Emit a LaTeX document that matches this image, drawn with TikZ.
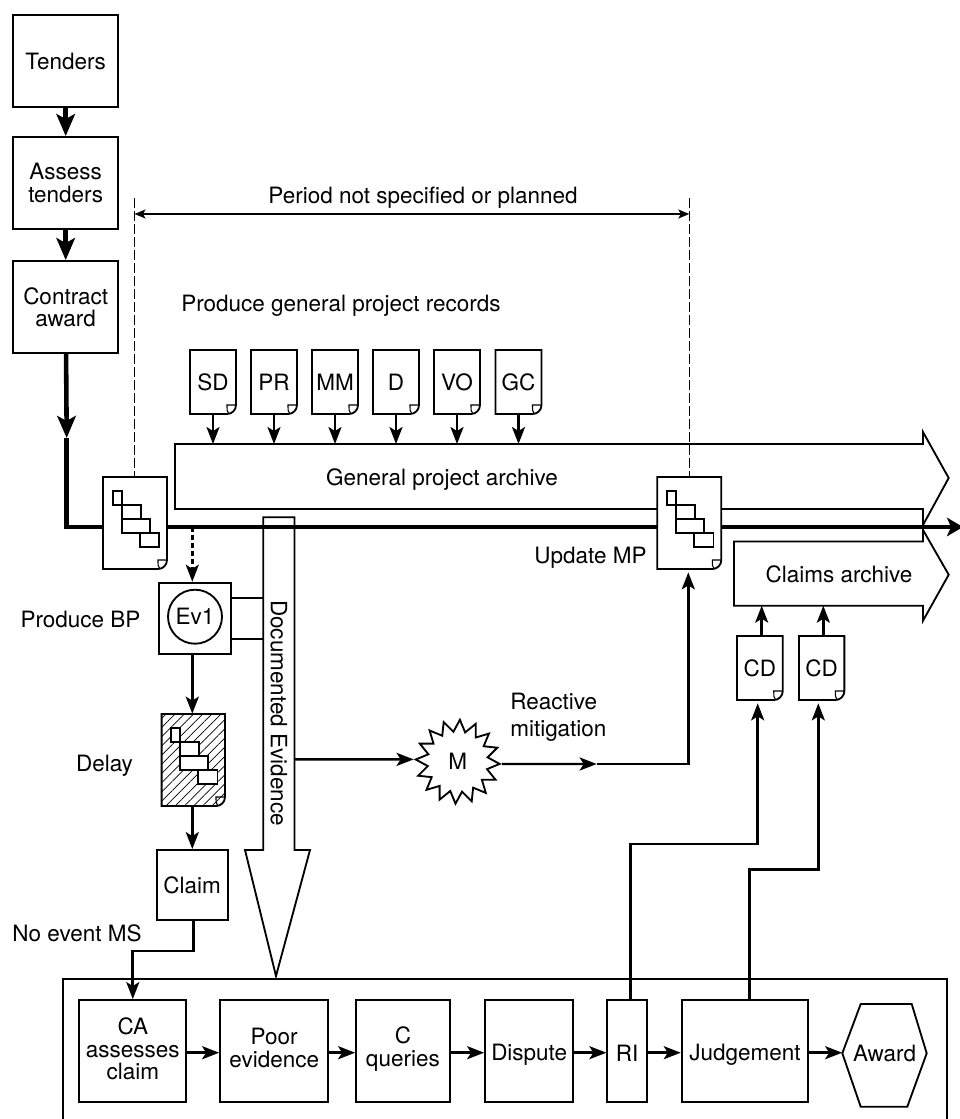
\documentclass[tikz,border=0pt]{standalone}
\usepackage{fontspec}
\setmainfont{TeX Gyre Heros}
\usetikzlibrary{arrows.meta,shapes.geometric,patterns.meta}
\tikzset{
  every node/.style={font=\fontsize{12.8}{12.7}\selectfont,align=center,inner sep=0pt},
  wh/.style 2 args={minimum width=#1*0.02cm,minimum height=#2*0.02cm},
  boxtext/.style 2 args={label={[yshift=#2*-0.02cm]center:{#1}}},
  taskbox/.style={draw,line width=1.05pt,fill=white},
  docline/.style={draw,line width=1.05pt},
  foldline/.style={line width=0.6pt},
  barline/.style={draw,line width=0.95pt,fill=white},
  arrowbox/.style={draw,line width=1.05pt,fill=white,line join=miter},
  heavyline/.style={line width=2.6pt},
  heavyarrow/.style={heavyline,-{Stealth[length=0.44cm,width=0.37cm,inset=0.1cm]}},
  routeline/.style={line width=1.5pt},
  routearrow/.style={routeline,-{Stealth[length=0.34cm,width=0.26cm,inset=0.08cm]}},
  flowarrow/.style={line width=1.4pt,-{Stealth[length=0.34cm,width=0.26cm,inset=0.08cm]}},
  dashline/.style={line width=0.65pt,dash pattern=on 0.2cm off 0.06cm},
  periodarrow/.style={line width=0.65pt,{Stealth[length=0.22cm,width=0.18cm,inset=0.05cm]}-{Stealth[length=0.22cm,width=0.18cm,inset=0.05cm]}},
  gapped/.style={shorten >=0.06cm}
}
\newcommand{\docnode}[7][fill=white]{%
  \begin{scope}[shift={(#3,#4)}]
    \draw[docline,#1] ({-#5/2},{-#6/2}) -- ({#5/2},{-#6/2}) -- ({#5/2},{#6/2-9})
      .. controls ({#5/2},{#6/2-4}) and ({#5/2-4},{#6/2}) .. ({#5/2-9},{#6/2}) -- ({-#5/2},{#6/2}) -- cycle;
    \draw[foldline] ({#5/2-7},{#6/2}) .. controls ({#5/2-9},{#6/2-3}) .. ({#5/2-9},{#6/2-9}) -- ({#5/2},{#6/2-9});
    \node[wh={#5}{#6}] (#2) at (0,0) {#7};
  \end{scope}}
\newcommand{\ganttbars}[1]{%
  \begin{scope}[shift={(#1)}]
    \draw[barline] (-22.3,-32.3) rectangle (-13,-18.3);
    \draw[barline] (-13,-18.3) rectangle (5.7,-4.3);
    \draw[barline] (-13,-4.3) rectangle (15,9.7);
    \draw[barline] (5,9.7) rectangle (24.3,24);
  \end{scope}}
\begin{document}
\begin{tikzpicture}[x=0.02cm,y=-0.02cm]
  \useasboundingbox (0,0) rectangle (960,1119);

  \node[taskbox,wh={105}{92}] (tenders) at (65.7,61) {Tenders};
  \node[taskbox,wh={105}{92}] (assess) at (65.7,183) {Assess\\tenders};
  \node[taskbox,wh={105}{92}] (contract) at (65.7,307) {Contract\\award};
  \draw[heavyarrow] (tenders) -- (assess);
  \draw[heavyarrow] (assess) -- (contract);

  \coordinate (dashl) at (134.5,198);
  \coordinate (dashr) at (689.3,198);
  \coordinate (periodl) at (134.5,214);
  \coordinate (periodr) at (689.3,214);
  \node (period) at (423,197.5) {Period not specified or planned};
  \draw[periodarrow] (periodl) -- (periodr);
  \node (records) at (341,306) {Produce general project records};

  \draw[arrowbox] (175,444) -- (923,444) -- (923,432) -- (948.7,478) -- (923,525) -- (923,509) -- (175,509) -- cycle;
  \node (gpa) at (442,480) {General project archive};
  \draw[arrowbox] (734,541.5) -- (923,541.5) -- (923,530) -- (948.7,574.7) -- (923,620.7) -- (923,605.7) -- (734,605.7) -- cycle;
  \node (claims) at (839,574) {Claims archive};
  \draw[arrowbox] (263.3,517.3) -- (294.5,517.3) -- (294.5,850) -- (310,850) -- (276,976) -- (245,850) -- (263.3,850) -- cycle;
  \node[rotate=-90] (evidence) at (279,713) {Documented Evidence};

  \coordinate (gpatop) at (175,444);
  \foreach \name/\cx in {SD/213,PR/274,MM/335,D/396,VO/457,GC/518.5} {
    \docnode{\name}{\cx}{382}{46}{64}{\name}
    \draw[flowarrow] (\name) -- (\name |- gpatop);
  }

  \coordinate (mainmid) at (66.7,438);
  \coordinate (mainbend) at (66.7,527);
  \coordinate (mainend) at (963,527);
  \draw[heavyarrow] (contract) -- (mainmid);
  \draw[heavyline,line join=miter] (mainmid) -- (mainbend) -- (mainend);
  \draw[heavyarrow,-{Stealth[length=0.32cm,width=0.37cm,inset=0.08cm]}] (930,527) -- (mainend);

  \docnode{docone}{135}{523}{64}{92}{}
  \ganttbars{docone}
  \docnode{doctwo}{689.3}{523}{64}{92}{}
  \ganttbars{doctwo}
  \draw[dashline] (dashl) -- (dashl |- docone.north);
  \draw[dashline] (dashr) -- (doctwo.north);
  \node (updatemp) at (590.5,558) {Update MP};

  \coordinate (dotx) at (192.3,527);
  \node[taskbox,wh={71.7}{71.7}] (evbox) at (194.9,618.5) {};
  \node[draw,circle,line width=1.05pt,minimum size=54*0.02cm] (evone) at (195,616.7) {Ev1};
  \node (producebp) at (80.5,619) {Produce BP};
  \draw[routearrow,dash pattern=on 0.1cm off 0.06cm] (dotx) -- (dotx |- evbox.north);
  \coordinate (evtop) at (263.3,597.7);
  \coordinate (evlow) at (263.3,639.3);
  \draw[docline] (evbox.east |- evtop) -- (evtop);
  \draw[docline] (evbox.east |- evlow) -- (evlow);

  \docnode[preaction={fill=white},pattern={Lines[angle=45,distance=0.13cm,line width=0.4pt]}]{delay}{193.3}{760}{63.4}{92}{}
  \ganttbars{delay}
  \node (delaytext) at (104.5,766) {Delay};
  \draw[routearrow] (dotx |- evbox.south) -- (dotx |- delay.north);

  \node[taskbox,wh={71}{70}] (claim) at (192.2,885) {Claim};
  \draw[routearrow] (dotx |- delay.south) -- (dotx |- claim.north);
  \node (noevent) at (77,933) {No event MS};

  \node[draw,star,star points=16,star point ratio=1.39,shape border rotate=-3,line width=1.05pt,fill=white,minimum size=84*0.02cm] (M) at (457.7,761.7) {M};
  \coordinate (devright) at (294.5,759.3);
  \coordinate (reactmid) at (596.7,764);
  \coordinate (reactcorner) at (688.3,764);
  \draw[flowarrow] (devright) -- (M.outer point 5);
  \draw[flowarrow] (M.outer point 13) -- (reactmid);
  \draw[routearrow,gapped] (reactmid) -- (reactcorner) -- (reactcorner |- doctwo.south);
  \node[anchor=west,align=left] (reactive) at (510,717.5) {Reactive\\[2.4pt]mitigation};

  \docnode{cdone}{759.9}{668}{45.7}{64}{CD}
  \docnode{cdtwo}{821.7}{668}{45.3}{64}{CD}
  \coordinate (cdupone) at (761.7,605.7);
  \coordinate (cduptwo) at (823.3,605.7);
  \draw[flowarrow] (cdupone |- cdone.north) -- (cdupone);
  \draw[flowarrow] (cduptwo |- cdtwo.north) -- (cduptwo);

  \draw[docline] (63.3,1119) -- (63.3,979) -- (947.3,979) -- (947.3,1119);

  \node[taskbox,wh={107}{102},boxtext={CA\\assesses\\claim}{-2}] (ca) at (132.8,1051) {};
  \node[taskbox,wh={108.3}{102},boxtext={Poor\\evidence}{-3}] (poor) at (274.2,1051) {};
  \node[taskbox,wh={93.7}{102},boxtext={C\\queries}{-2}] (cq) at (402.9,1051) {};
  \node[taskbox,wh={88.3}{102},boxtext={Dispute}{4}] (dispute) at (529.2,1051) {};
  \node[taskbox,wh={39.4}{102},boxtext={RI}{2}] (ri) at (627,1051) {};
  \node[taskbox,wh={126.6}{102},boxtext={Judgement}{4}] (judgement) at (745,1051) {};
  \draw[docline,fill=white] (842.3,1053.3) -- (860.7,1004) -- (911.7,1004) -- (926.7,1053.3) -- (907.3,1106.7) -- (860.7,1106.7) -- cycle;
  \node[wh={84}{102}] (award) at (884.5,1053) {Award};

  \coordinate (row) at (0,1052.7);
  \foreach \a/\b in {ca/poor,poor/cq,cq/dispute,dispute/ri,ri/judgement} {
    \draw[flowarrow] (\a.east |- row) -- (\b.west |- row);
  }
  \draw[flowarrow] (judgement.east |- row) -- (award.west |- row);

  \coordinate (noturn) at (193.5,951);
  \draw[routearrow] (noturn |- claim.south) -- (noturn) -- (ca.north |- noturn) -- (ca.north);

  \coordinate (riturn) at (630.3,844);
  \coordinate (ritop) at (757.7,844);
  \coordinate (jturn) at (749.3,869.3);
  \coordinate (jtop) at (818.3,869.3);
  \draw[routearrow,gapped] (riturn |- ri.north) -- (riturn) -- (ritop) -- (ritop |- cdone.south);
  \draw[routearrow,gapped] (jturn |- judgement.north) -- (jturn) -- (jtop) -- (jtop |- cdtwo.south);
\end{tikzpicture}
\end{document}
